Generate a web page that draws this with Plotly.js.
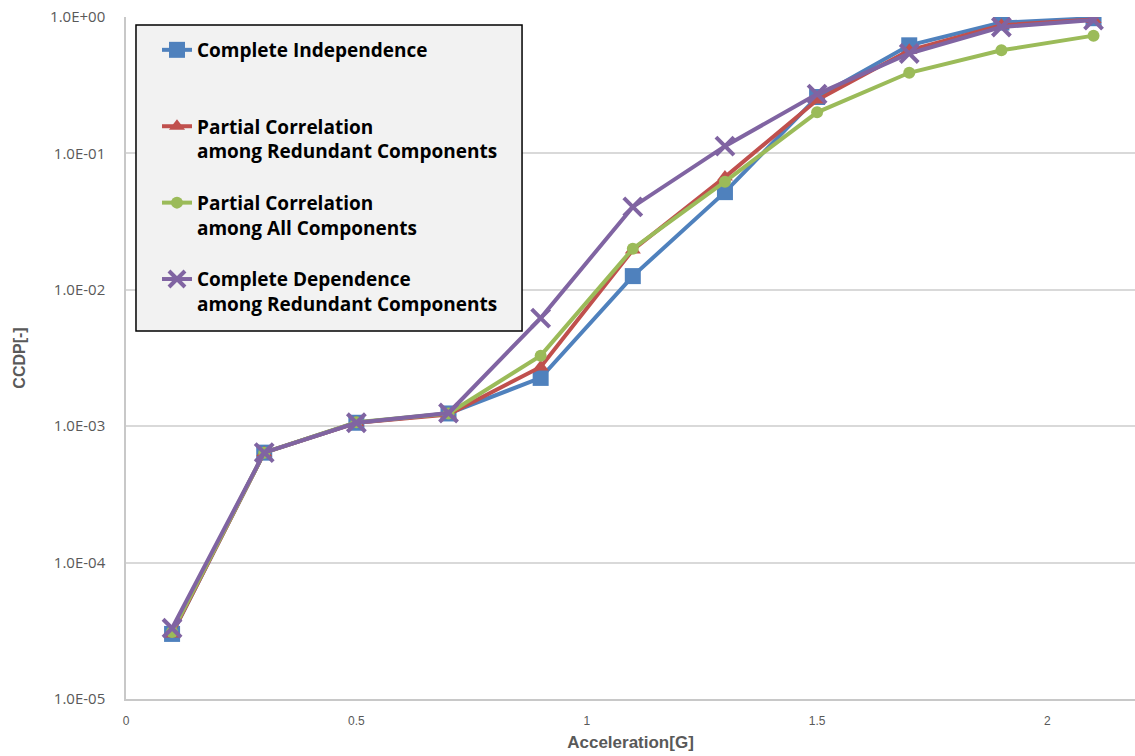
<!DOCTYPE html>
<html>
<head>
<meta charset="utf-8">
<script src="https://cdn.plot.ly/plotly-3.0.1.min.js"></script>
<style>html,body{margin:0;padding:0;overflow:hidden;background:#fff}</style>
</head>
<body>
<div id="chart" style="width:1135px;height:756px"></div>
<script>
const accel = [0.1, 0.3, 0.5, 0.7, 0.9, 1.1, 1.3, 1.5, 1.7, 1.9, 2.1];
const completeIndependence = [3.0e-5, 6.4e-4, 1.06e-3, 1.24e-3, 2.26e-3, 1.26e-2, 5.2e-2, 0.259, 0.62, 0.91, 0.98];
const partialRedundant = [3.0e-5, 6.4e-4, 1.06e-3, 1.22e-3, 2.72e-3, 1.96e-2, 6.7e-2, 0.246, 0.57, 0.87, 0.96];
const partialAll = [3.1e-5, 6.4e-4, 1.07e-3, 1.24e-3, 3.29e-3, 2.0e-2, 6.2e-2, 0.20, 0.39, 0.57, 0.73];
const completeDependence = [3.3e-5, 6.4e-4, 1.06e-3, 1.25e-3, 6.2e-3, 4.05e-2, 0.113, 0.272, 0.54, 0.845, 0.95];
const seriesNames = [
  "Complete Independence<br> ",
  "Partial Correlation<br>among Redundant Components",
  "Partial Correlation<br>among All Components",
  "Complete Dependence<br>among Redundant Components"
];
const yTickVals = [1e-5, 1e-4, 1e-3, 1e-2, 1e-1, 1];
const yTickText = ["1.0E-05", "1.0E-04", "1.0E-03", "1.0E-02", "1.0E-01", "1.0E+00"];
const xTickVals = [0, 0.5, 1, 1.5, 2];
const xTickText = ["0", "0.5", "1", "1.5", "2"];

const traces = [
  {x: accel, y: completeIndependence, name: seriesNames[0], legendgroup: "a", mode: "lines+markers",
   line: {color: "#4F81BD", width: 4}, marker: {symbol: "square", size: 16, color: "#4F81BD"}},
  {x: accel, y: partialRedundant, name: seriesNames[1], legendgroup: "b", mode: "lines+markers",
   line: {color: "#C0504D", width: 4}, marker: {symbol: "triangle-up", size: 14, color: "#C0504D"}},
  {x: accel, y: partialAll, name: seriesNames[2], legendgroup: "c", mode: "lines+markers",
   line: {color: "#9BBB59", width: 4}, marker: {symbol: "circle", size: 12, color: "#9BBB59"}},
  {x: accel, y: completeDependence, name: seriesNames[3], legendgroup: "d", mode: "lines+markers",
   line: {color: "#8064A2", width: 4}, marker: {symbol: "x-thin", size: 18, color: "#8064A2", line: {color: "#8064A2", width: 4}}}
];

const layout = {
  width: 1135, height: 756,
  margin: {l: 126, r: 0, t: 17, b: 57},
  paper_bgcolor: "#ffffff", plot_bgcolor: "#ffffff",
  showlegend: true,
  shapes: [{
    type: "rect", xref: "paper", yref: "paper",
    x0: 0.0099, x1: 0.3925, y0: 0.5396, y1: 0.9883,
    fillcolor: "#f2f2f2", line: {color: "#000000", width: 1.5}, layer: "above"
  }],
  legend: {
    x: 0.0307, y: 0.9795, xanchor: "left", yanchor: "top",
    bgcolor: "rgba(0,0,0,0)", borderwidth: 0,
    font: {family: "Open Sans, sans-serif", size: 19, color: "#000000", weight: "bold"},
    valign: "top", tracegroupgap: 24, itemwidth: 30
  },
  xaxis: {
    range: [0, 2.19], tickvals: xTickVals, ticktext: xTickText,
    showgrid: false, zeroline: false, showline: true, linecolor: "#c8c8c8", linewidth: 1.5,
    ticks: "", ticklabelstandoff: 10,
    tickfont: {family: "Liberation Sans Narrow, Liberation Sans, sans-serif", size: 12, color: "#595959"},
    title: {text: "Acceleration[G]", standoff: 9, font: {family: "Liberation Sans, Arial, sans-serif", size: 17, color: "#595959", weight: "bold"}}
  },
  yaxis: {
    type: "log", range: [-5, 0], tickvals: yTickVals, ticktext: yTickText,
    showgrid: true, gridcolor: "#d9d9d9", gridwidth: 1.5,
    zeroline: false, showline: true, linecolor: "#c8c8c8", linewidth: 1.5,
    ticks: "", ticklabelstandoff: 16,
    tickfont: {family: "Open Sans, sans-serif", size: 15, color: "#595959"},
    title: {text: "CCDP[-]", standoff: 20, font: {family: "Liberation Sans, Arial, sans-serif", size: 16, color: "#595959", weight: "bold"}}
  }
};

Plotly.newPlot("chart", traces, layout, {displayModeBar: false, responsive: false});
</script>
</body>
</html>
